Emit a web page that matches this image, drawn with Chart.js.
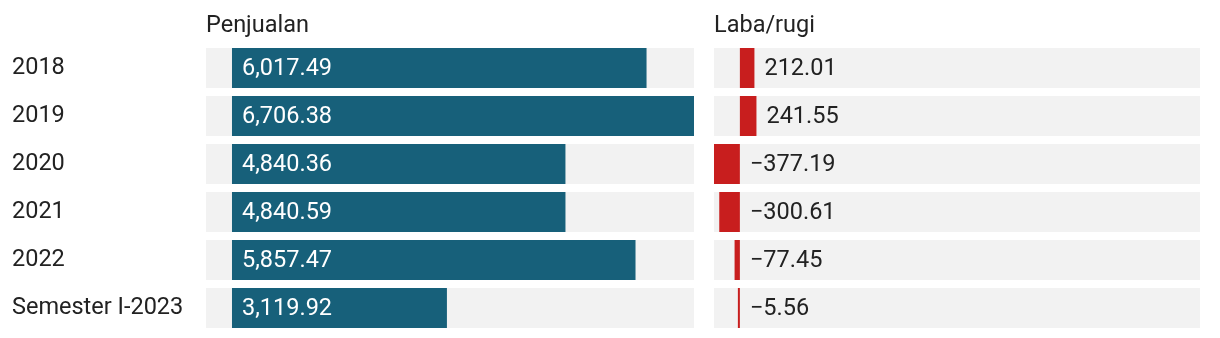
<!DOCTYPE html>
<html>
<head>
<meta charset="utf-8">
<script src="https://cdn.jsdelivr.net/npm/chart.js@4.4.0/dist/chart.umd.min.js"></script>
<style>
  html, body { margin: 0; padding: 0; background: #fff; }
  #wrap { position: relative; width: 1220px; height: 338px; }
  #wrap canvas { position: absolute; top: 0; }
  #chartPenjualan { left: 0; }
  #chartLaba { left: 700px; }
</style>
</head>
<body>
<div id="wrap">
  <canvas id="chartPenjualan" width="700" height="338"></canvas>
  <canvas id="chartLaba" width="520" height="338"></canvas>
</div>
<script>
// data (miliar rupiah)
var periods = ['2018', '2019', '2020', '2021', '2022', 'Semester I-2023'];
var penjualan = [6017.49, 6706.38, 4840.36, 4840.59, 5857.47, 3119.92];
var labaRugi = [212.01, 241.55, -377.19, -300.61, -77.45, -5.56];

// both panels share one scale
var axisMin = Math.min.apply(null, labaRugi);
var axisMax = Math.max.apply(null, penjualan);

var FONT = 'Roboto, "Noto Sans", sans-serif';
var FONT_SIZE = 23.5;
var TEXT = '#222222';

Chart.defaults.font.family = FONT;
Chart.defaults.animation = false;

function fmt(v) {
  var s = Math.abs(v).toLocaleString('en-US', {minimumFractionDigits: 2, maximumFractionDigits: 2});
  return (v < 0 ? '\u2212' : '') + s;
}

// value labels next to / inside the bars
var valueLabels = {
  id: 'valueLabels',
  afterDatasetsDraw: function (chart, args, opts) {
    var ctx = chart.ctx;
    var meta = chart.getDatasetMeta(0);
    var values = chart.data.datasets[0].data;
    ctx.save();
    ctx.font = FONT_SIZE + 'px ' + FONT;
    ctx.textBaseline = 'middle';
    ctx.textAlign = 'left';
    ctx.fillStyle = opts.color;
    meta.data.forEach(function (bar, i) {
      var v = values[i];
      // inside: from the bar start; outside: past the zero line or bar end
      var x = opts.inside ? bar.base : Math.max(bar.x, bar.base);
      ctx.fillText(fmt(v), x + 10, bar.y + 1);
    });
    ctx.restore();
  }
};

function makeChart(id, title, values, color, yWidth, padding, labelOpts) {
  var bg = values.map(function () { return [axisMin, axisMax]; });
  return new Chart(document.getElementById(id), {
    type: 'bar',
    data: {
      labels: periods,
      datasets: [
        {data: values, backgroundColor: color, grouped: false, minBarLength: 2,
         barPercentage: 1, categoryPercentage: 40 / 48},
        {data: bg, backgroundColor: '#f2f2f2', grouped: false,
         barPercentage: 1, categoryPercentage: 40 / 48}
      ]
    },
    options: {
      indexAxis: 'y',
      responsive: false,
      layout: {padding: padding},
      plugins: {
        legend: {display: false},
        tooltip: {enabled: false},
        valueLabels: labelOpts
      },
      scales: {
        x: {
          position: 'top',
          min: axisMin,
          max: axisMax,
          grid: {display: false},
          border: {display: false},
          ticks: {display: false},
          title: {
            display: true, text: title, align: 'start', color: TEXT,
            font: {size: FONT_SIZE, family: FONT}, padding: {top: 12, bottom: 0}
          },
          afterFit: function (s) { s.height = 44; }
        },
        y: {
          grid: {display: false},
          border: {display: false},
          ticks: {
            display: yWidth > 0,
            color: TEXT, crossAlign: 'far', padding: 0,
            font: {size: FONT_SIZE, family: FONT}
          },
          afterFit: function (s) {
            s.width = yWidth;
            // labels sit in the row bands, no extra room needed
            s.paddingTop = 0;
            s.paddingBottom = 0;
          }
        }
      }
    },
    plugins: [valueLabels]
  });
}

makeChart('chartPenjualan', 'Penjualan', penjualan, '#17607a', 194,
  {left: 12, right: 6, top: 0, bottom: 6}, {color: '#ffffff', inside: true});
makeChart('chartLaba', 'Laba/rugi', labaRugi, '#c81e1e', 0,
  {left: 14, right: 20, top: 0, bottom: 6}, {color: TEXT, inside: false});
</script>
</body>
</html>
